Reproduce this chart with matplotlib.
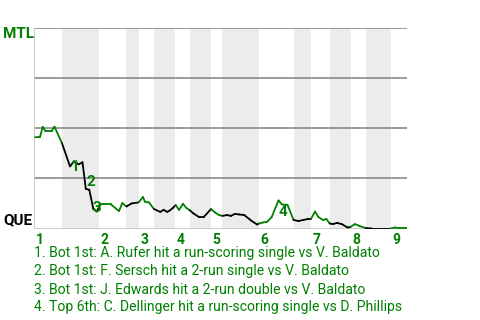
import matplotlib
matplotlib.use("Agg")
import matplotlib.pyplot as plt
from matplotlib.collections import LineCollection
import numpy as np

plt.rcParams['font.family'] = ['Roboto', 'DejaVu Sans']

# progress through the game (play progress units) and MTL win probability (%)
progress = [1, 6, 8.7, 11.5, 17.5, 20.5, 28, 36, 40, 44.7, 48.5, 51.8, 55.3, 59.3, 62.7, 65,
            67, 77, 85, 88.3, 92.5, 97.7, 104.5, 109, 111, 115, 120, 123, 126.3, 129.7, 133,
            135, 139, 141.7, 145, 149, 152.3, 156, 159, 165, 169.7, 177, 181, 185, 188.5, 193,
            197, 201, 205, 210.3, 217, 223, 225, 229, 233, 237.7, 244.5, 248, 253.5, 259.5,
            264.3, 269.7, 274.3, 277, 281, 284.3, 289, 292.3, 295.7, 299, 303, 307.7, 313.7,
            316.5, 321, 325.7, 332, 337.7, 356.5, 361, 364.3, 372.7]
mtl_wp = [45.5, 45.7, 50.7, 48.5, 48.5, 50.8, 42.5, 31, 33.5, 32, 33, 19.8, 19.3, 9.8, 8.5, 10.5,
          12, 12, 8.7, 12.7, 11, 12.5, 13, 15.7, 13.3, 13, 9.7, 9, 8.3, 9.3, 8.3,
          8.7, 10.3, 11.7, 9.3, 12.3, 10.3, 9, 7.7, 5.7, 5.7, 9.7, 8, 6.7, 6.3, 6.7,
          6.3, 7.3, 7, 6.7, 4, 2, 2.5, 3, 3.3, 5.7, 14, 12, 11.8, 4.3,
          3.7, 4.3, 4.8, 4.8, 8.5, 5.8, 4.2, 4.8, 2.5, 2.2, 2.8, 2.2, 0.5,
          0.8, 2.2, 1.2, 0.2, 0, 0, 0.5, 0.2, 0.2]

# half-inning boundaries
inning_starts = [0, 65, 105, 141, 177, 225, 277, 317, 357]
bottom_halves = [(28, 65), (92, 105), (120, 141), (156, 177), (188, 225),
                 (260, 277), (296, 317), (332, 357)]
game_end = 373
inning_labels = ['1', '2', '3', '4', '5', '6', '7', '8', '9']

# key events
event_ids = ['1', '2', '3', '4']
event_x = [41, 57, 63, 249]
event_wp = [30.5, 23, 10, 8]
event_texts = [
    "1. Bot 1st: A. Rufer hit a run-scoring single vs V. Baldato",
    "2. Bot 1st: F. Sersch hit a 2-run single vs V. Baldato",
    "3. Bot 1st: J. Edwards hit a 2-run double vs V. Baldato",
    "4. Top 6th: C. Dellinger hit a run-scoring single vs D. Phillips",
]

GREEN = '#008000'

fig = plt.figure(figsize=(4.8, 3.2), dpi=100)
W, H = 480, 320
ax = fig.add_axes([34 / W, (H - 228.5) / H, (407 - 34) / W, 200.5 / H])
ax.set_xlim(0, game_end)
ax.set_ylim(0, 100)
ax.axis('off')

for a, b in bottom_halves:
    ax.axvspan(a, b, color='#ececec', lw=0, zorder=0)

for g in [25, 50, 75, 100]:
    ax.axhline(g, color='#808080', lw=1.1, zorder=1)
ax.axhline(0, color='#c4c4c4', lw=1.2, zorder=1)
ax.axvline(0, color='#c4c4c4', lw=1.2, zorder=1)

pts = np.column_stack([progress, mtl_wp])
segs = [pts[i:i + 2] for i in range(len(pts) - 1)]
cols = []
for i in range(len(pts) - 1):
    mid = 0.5 * (progress[i] + progress[i + 1])
    inb = any(a <= mid <= b for a, b in bottom_halves)
    cols.append('black' if inb else GREEN)
lc = LineCollection(segs, colors=cols, linewidths=1.3, zorder=3, capstyle='round', joinstyle='round')
ax.add_collection(lc)

for t, x, y in zip(event_ids, event_x, event_wp):
    ax.text(x, y, t, color=GREEN, fontsize=11, fontweight='bold', ha='center', va='center', zorder=4)

for s, lab in zip(inning_starts, inning_labels):
    ax.annotate(lab, xy=(s, 0), xytext=(1.5, -4.5), textcoords='offset pixels',
                color=GREEN, fontsize=10, fontweight='bold', ha='left', va='top')

fig.text(3 / W, 1 - 34.5 / H, 'MTL', color=GREEN, fontsize=11, fontweight='bold', ha='left', va='center')
fig.text(3 / W, 1 - 220 / H, 'QUE', color='black', fontsize=11, fontweight='bold', ha='left', va='center')

for i, t in enumerate(event_texts):
    fig.text(34 / W, 1 - (253.5 + 18 * i) / H, t, color=GREEN, fontsize=10.1, ha='left', va='center')

fig.savefig('out.png', dpi=100)
